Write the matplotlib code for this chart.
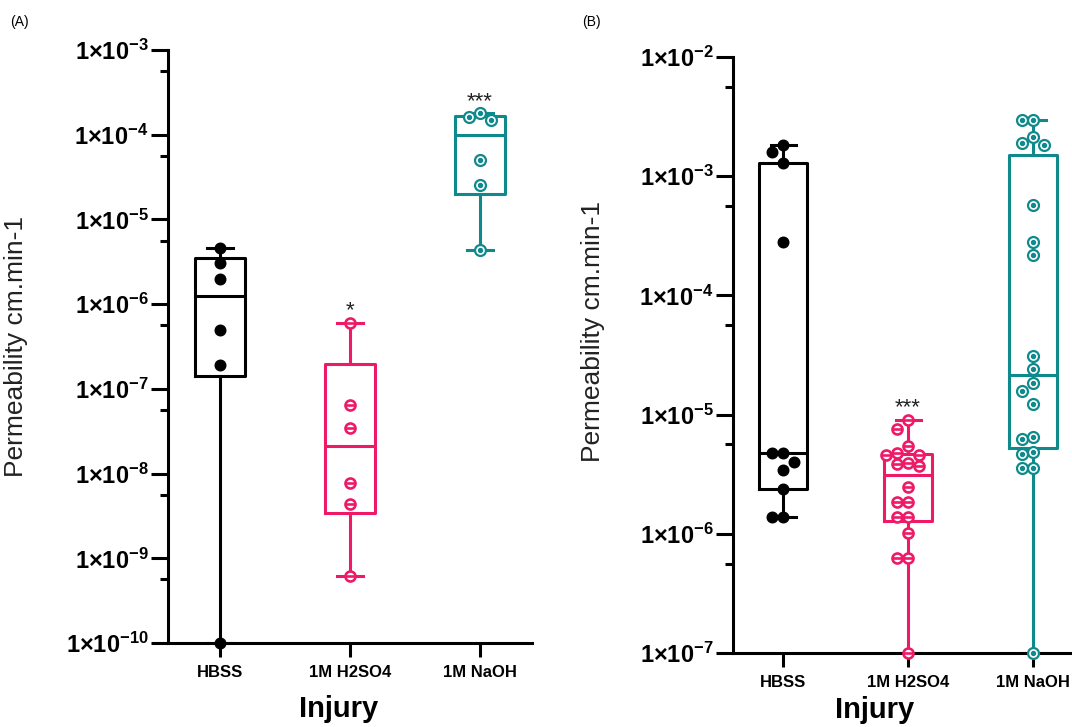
import numpy as np
import matplotlib
matplotlib.use("Agg")
import matplotlib.pyplot as plt
from matplotlib.ticker import FixedLocator, FixedFormatter, NullFormatter

plt.rcParams["font.family"] = ["Liberation Sans", "DejaVu Sans"]
plt.rcParams["mathtext.fontset"] = "custom"
plt.rcParams["mathtext.rm"] = "Liberation Sans"
plt.rcParams["mathtext.bf"] = "Liberation Sans:bold"
plt.rcParams["mathtext.it"] = "Liberation Sans:italic"

GROUPS = ["HBSS", "1M H2SO4", "1M NaOH"]
COLORS = ["#000000", "#ee1a68", "#0f8a8c"]

# panel A values (cm/min)
a_hbss = [4.6e-6, 3.1e-6, 2.0e-6, 4.9e-7, 1.9e-7, 1e-10]
a_h2so4 = [6.0e-7, 6.5e-8, 3.5e-8, 7.8e-9, 4.4e-9, 6.2e-10]
a_naoh = [1.80e-4, 1.62e-4, 1.49e-4, 5.0e-5, 2.55e-5, 4.4e-6]
a_stars = ["", "*", "***"]
a_decades = [-10, -3]

# panel B values (cm/min)
b_hbss = [1.83e-3, 1.6e-3, 1.29e-3, 2.8e-4, 4.77e-6, 4.77e-6, 4.0e-6,
          3.43e-6, 2.37e-6, 1.38e-6, 1.38e-6]
b_h2so4 = [9.0e-6, 7.6e-6, 5.45e-6, 4.77e-6, 4.58e-6, 4.58e-6, 3.93e-6,
           3.85e-6, 3.71e-6, 2.47e-6, 1.85e-6, 1.85e-6, 1.38e-6, 1.38e-6,
           1.02e-6, 6.27e-7, 6.27e-7, 1e-7]
b_naoh = [2.96e-3, 2.96e-3, 2.13e-3, 1.90e-3, 1.83e-3, 5.73e-4, 2.8e-4,
          2.18e-4, 3.1e-5, 2.42e-5, 1.84e-5, 1.58e-5, 1.23e-5, 6.45e-6,
          6.3e-6, 4.84e-6, 4.7e-6, 3.56e-6, 3.56e-6, 1e-7]
b_stars = ["", "***", ""]
b_decades = [-7, -2]

LW = 2.2
DIAM_PX = 11


def swarm_x(ax, i, vals):
    # spread overlapping points sideways (pixel space)
    vals = np.asarray(vals)
    pts = ax.transData.transform(np.column_stack([np.full(len(vals), i), vals]))
    ys = pts[:, 1]
    ppu = ax.transData.transform((1, 1))[0] - ax.transData.transform((0, 1))[0]
    placed = []
    xs = np.zeros(len(vals))
    for k in np.argsort(-vals, kind="stable"):
        for step in [0, -1, 1, -2, 2, 3, -3]:
            dx = step * DIAM_PX
            if all(np.hypot(dx - px, ys[k] - py) >= DIAM_PX * 0.95 for px, py in placed):
                break
        placed.append((dx, ys[k]))
        xs[k] = i + dx / ppu
    return xs


def draw_points(ax, xs, vals, kind, color):
    if kind == 0:
        ax.scatter(xs, vals, s=58, color=color, zorder=4, clip_on=False)
    elif kind == 1:
        ax.scatter(xs, vals, s=52, facecolor="white", edgecolor=color,
                   linewidth=1.9, zorder=4, clip_on=False)
        ax.scatter(xs, vals, s=42, marker="_", color=color, linewidth=1.9,
                   zorder=5, clip_on=False)
    else:
        ax.scatter(xs, vals, s=62, facecolor="white", edgecolor=color,
                   linewidth=1.6, zorder=4, clip_on=False)
        ax.scatter(xs, vals, s=8, color=color, zorder=5, clip_on=False)


def panel(ax, data, stars, decades):
    lo, hi = decades
    ax.set_yscale("log")
    ax.set_ylim(10.0 ** lo, 10.0 ** hi)
    ax.set_xlim(-0.4, 2.4)

    for i, (vals, color) in enumerate(zip(data, COLORS)):
        v = np.asarray(vals)
        q1, med, q3 = np.percentile(v, [25, 50, 75], method="weibull")
        st = [dict(med=med, q1=q1, q3=q3, whislo=v.min(), whishi=v.max(),
                   fliers=[])]
        line = dict(color=color, linewidth=LW)
        ax.bxp(st, positions=[i], widths=0.38, capwidths=0.2,
               showfliers=False, boxprops=line, whiskerprops=line,
               capprops=line, medianprops=line, manage_ticks=False)
        xs = swarm_x(ax, i, v)
        draw_points(ax, xs, v, i, color)
        if stars[i]:
            ax.annotate(stars[i], xy=(i, v.max()), xytext=(0, 1),
                        textcoords="offset points", ha="center", va="bottom",
                        fontsize=16, color="#222222")

    majors = [10.0 ** k for k in range(lo, hi + 1)]
    ax.yaxis.set_major_locator(FixedLocator(majors))
    ax.yaxis.set_major_formatter(FixedFormatter(
        [r"$\mathbf{1{\times}10^{%d}}$" % k for k in range(lo, hi + 1)]))
    ax.yaxis.set_minor_locator(FixedLocator(
        [10.0 ** (k - 0.25) for k in range(lo + 1, hi + 1)]))
    ax.yaxis.set_minor_formatter(NullFormatter())
    ax.tick_params(axis="y", which="major", length=12, width=LW,
                   labelsize=17, pad=2)
    ax.tick_params(axis="y", which="minor", length=6, width=LW)
    ax.set_xticks(range(len(GROUPS)))
    ax.set_xticklabels(GROUPS, fontweight="bold", fontsize=12)
    ax.tick_params(axis="x", length=10, width=LW, pad=6)

    for side in ["top", "right"]:
        ax.spines[side].set_visible(False)
    for side in ["left", "bottom"]:
        ax.spines[side].set_linewidth(LW)

    ax.set_ylabel("Permeability cm.min-1", fontsize=19, color="#222222")
    ax.set_xlabel("Injury", fontsize=21, fontweight="bold")


fig = plt.figure(figsize=(10.72, 7.27), dpi=100)
ax_a = fig.add_axes([0.1567, 0.1155, 0.3396, 0.8157])
ax_b = fig.add_axes([0.6838, 0.1018, 0.3265, 0.8198])

panel(ax_a, [a_hbss, a_h2so4, a_naoh], a_stars, a_decades)
panel(ax_b, [b_hbss, b_h2so4, b_naoh], b_stars, b_decades)

ax_a.yaxis.set_label_coords(-0.385, 0.5)
ax_a.xaxis.set_label_coords(0.47, -0.088)
ax_b.yaxis.set_label_coords(-0.366, 0.54)
ax_b.xaxis.set_label_coords(0.405, -0.072)

fig.text(0.009, 0.97, "(A)", fontsize=10, va="center")
fig.text(0.543, 0.97, "(B)", fontsize=10, va="center")

fig.savefig("out.png", dpi=100)
